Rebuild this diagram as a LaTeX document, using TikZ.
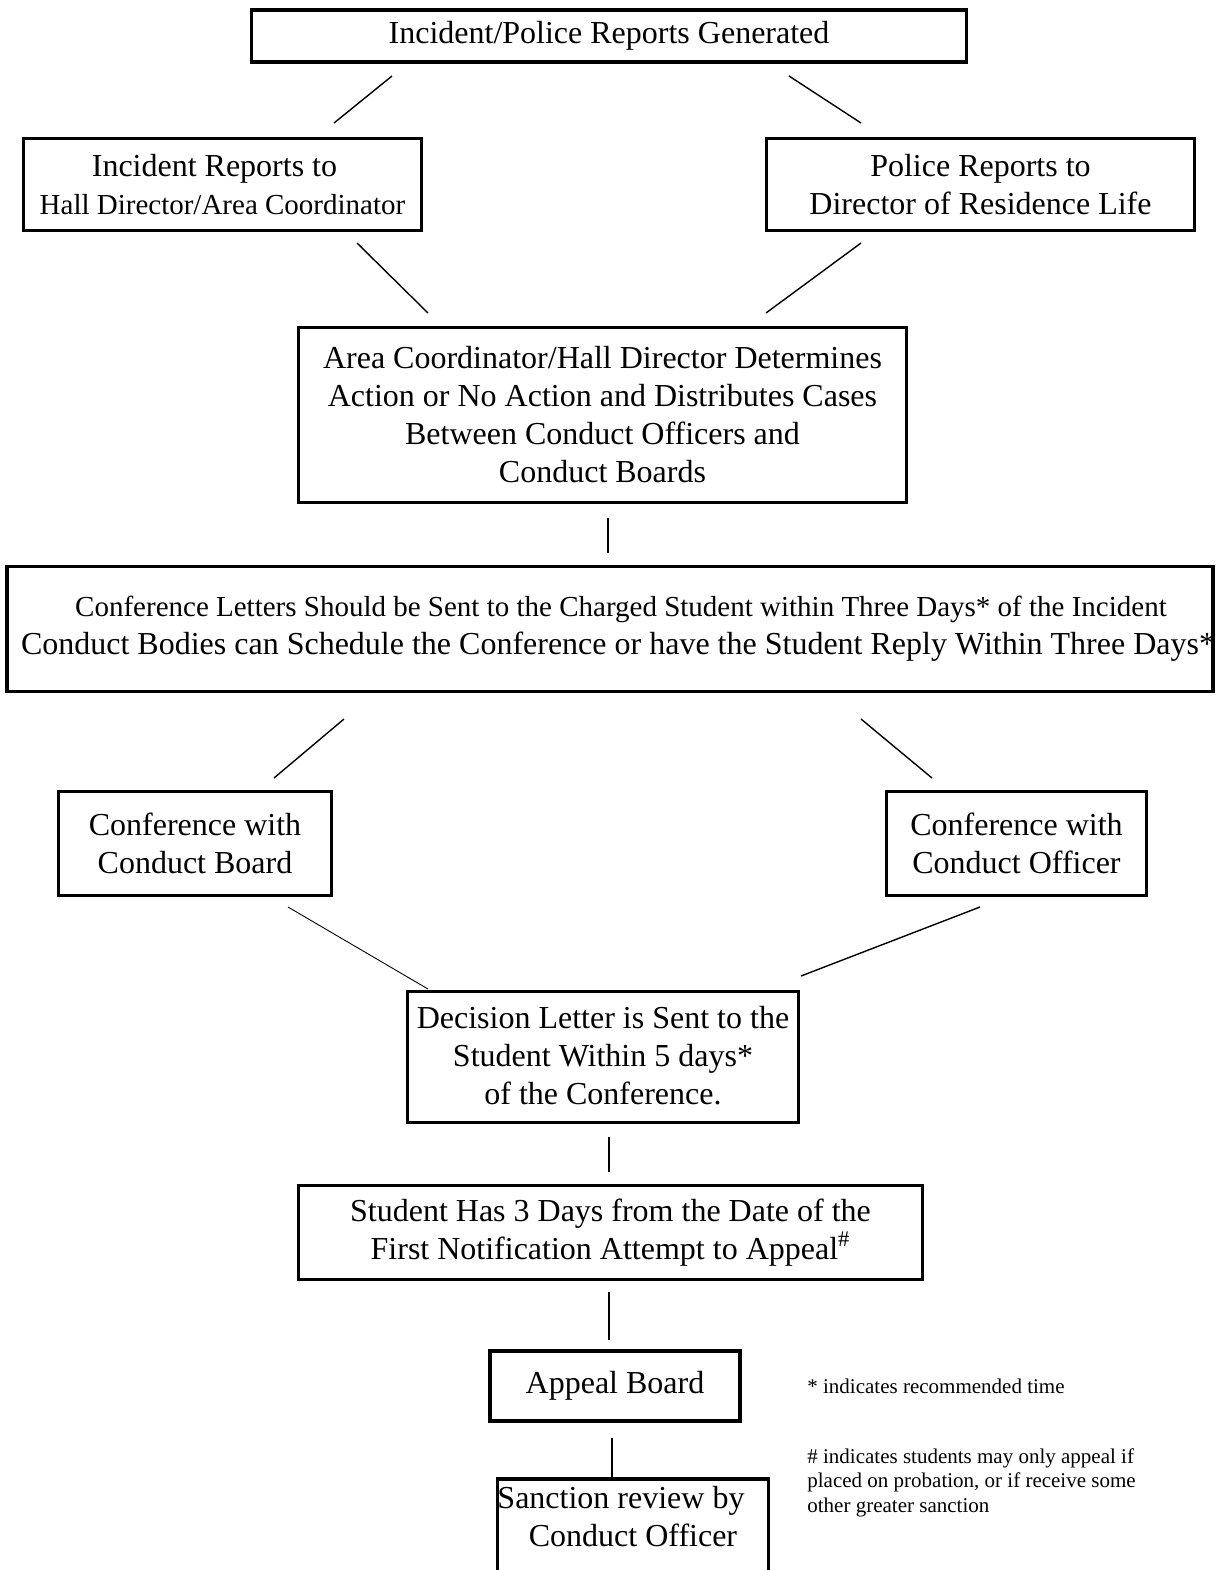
\documentclass[tikz,border=0pt]{standalone}
\usepackage{fontspec}
\setmainfont{Liberation Serif}
\usepackage{tikz}

\begin{document}
\begin{tikzpicture}[x=0.5pt,y=-0.5pt]
  \tikzset{flowbox/.style={draw=black,line width=1.8pt,inner sep=0pt,align=center,font=\fontsize{16}{19}\selectfont}}
  \tikzset{flowedge/.style={draw=black,line width=0.7pt}}
  \tikzset{thinedge/.style={draw=black,line width=0.45pt}}
  \tikzset{stemedge/.style={draw=black,line width=1pt}}
  \tikzset{notelabel/.style={font=\fontsize{10.5}{12.25}\selectfont,align=left,inner sep=0pt}}
  \useasboundingbox (0,0) rectangle (1220,1570);
  \node[flowbox,minimum width=357.5pt,minimum height=26pt] (b0) at (609,36) {Incident/Police Reports Generated};
  \node[flowbox,minimum width=199pt,minimum height=46pt] (b1) at (222.5,184.5) {\hspace*{-8pt}Incident Reports to\\{\fontsize{14.5}{19}\selectfont Hall Director/Area Coordinator}};
  \node[flowbox,minimum width=214pt,minimum height=46pt] (b2) at (980.5,184.5) {Police Reports to\\Director of Residence Life};
  \node[flowbox,minimum width=304pt,minimum height=87.5pt] (b3) at (602.5,415) {Area Coordinator/Hall Director Determines\\Action or No Action and Distributes Cases\\Between Conduct Officers and\\Conduct Boards};
  \node[flowbox,minimum width=603pt,minimum height=62.5pt] (b4) at (610,629) {\hspace*{11pt}{\fontsize{14.5}{19}\selectfont Conference Letters Should be Sent to the Charged Student within Three Days* of the Incident}\\\makebox[560pt]{\hspace*{8pt}Conduct Bodies can Schedule the Conference or have the Student Reply Within Three Days*}};
  \node[flowbox,minimum width=136.5pt,minimum height=52pt] (b5) at (195,843.5) {Conference with\\Conduct Board};
  \node[flowbox,minimum width=130pt,minimum height=52pt] (b6) at (1016.5,843.5) {Conference with\\Conduct Officer};
  \node[flowbox,minimum width=195.5pt,minimum height=65.5pt,text depth=2pt] (b7) at (603,1057) {Decision Letter is Sent to the\\Student Within 5 days*\\of the Conference.};
  \node[flowbox,minimum width=312pt,minimum height=47pt] (b8) at (610.5,1232.5) {Student Has 3 Days from the Date of the\\First Notification Attempt to Appeal\textsuperscript{\#}};
  \node[flowbox,minimum width=125pt,minimum height=35pt] (b9) at (615,1386) {Appeal Board};
  \node[flowbox,minimum width=135.5pt,inner sep=3.5pt,text depth=40pt,anchor=north] (b10) at (633,1477) {\hspace*{-12pt}Sanction review by\\Conduct Officer};
  \node[notelabel,anchor=west] (n0) at (807,1386) {* indicates recommended time};
  \node[notelabel,anchor=north west] (n1) at (807,1448) {\# indicates students may only appeal if\\placed on probation, or if receive some\\other greater sanction};
  \coordinate (e0a) at (392,76);   \coordinate (e0b) at (334,123);
  \coordinate (e1a) at (789,76);   \coordinate (e1b) at (861,123);
  \coordinate (e2a) at (357,243);  \coordinate (e2b) at (428,313);
  \coordinate (e3a) at (861,243);  \coordinate (e3b) at (766,313);
  \coordinate (e4a) at (608,518);  \coordinate (e4b) at (608,553);
  \coordinate (e5a) at (344,719);  \coordinate (e5b) at (274,778);
  \coordinate (e6a) at (861,719);  \coordinate (e6b) at (932,778);
  \coordinate (e7a) at (288,907);  \coordinate (e7b) at (428,989);
  \coordinate (e8a) at (980,907);  \coordinate (e8b) at (801,976);
  \coordinate (e9a) at (609,1137); \coordinate (e9b) at (609,1172);
  \coordinate (e10a) at (609,1292); \coordinate (e10b) at (609,1340);
  \coordinate (e11a) at (612,1438); \coordinate (e11b) at (612,1477);
  \draw[flowedge] (e0a) -- (e0b);
  \draw[flowedge] (e1a) -- (e1b);
  \draw[flowedge] (e2a) -- (e2b);
  \draw[flowedge] (e3a) -- (e3b);
  \draw[stemedge] (e4a) -- (e4b);
  \draw[flowedge] (e5a) -- (e5b);
  \draw[flowedge] (e6a) -- (e6b);
  \draw[thinedge] (e7a) -- (e7b);
  \draw[flowedge] (e8a) -- (e8b);
  \draw[stemedge] (e9a) -- (e9b);
  \draw[stemedge] (e10a) -- (e10b);
  \draw[stemedge] (e11a) -- (e11b);
\end{tikzpicture}
\end{document}
